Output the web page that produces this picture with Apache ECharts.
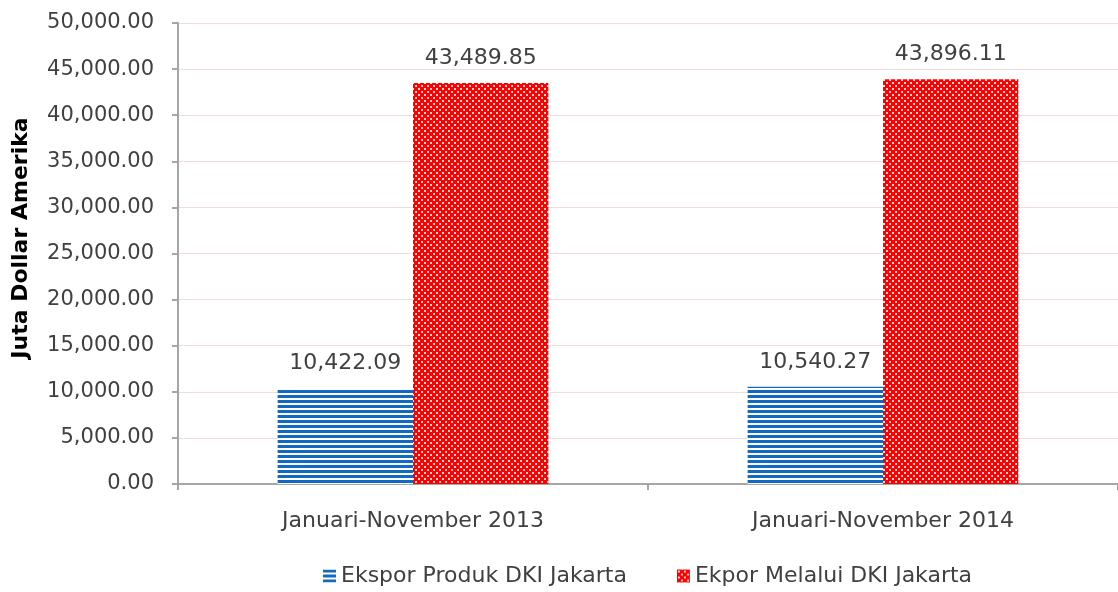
<!DOCTYPE html>
<html>
<head>
<meta charset="utf-8">
<script src="https://cdn.jsdelivr.net/npm/echarts@6/dist/echarts.min.js"></script>
<style>html,body{margin:0;padding:0;background:#fff}#c{width:1118px;height:592px}</style>
</head>
<body>
<div id="c"></div>
<script>
const categories = ["Januari-November 2013", "Januari-November 2014"];
const seriesNames = ["Ekspor Produk DKI Jakarta", "Ekpor Melalui DKI Jakarta"];
const eksporProduk = [10422.09, 10540.27];
const eksporMelalui = [43489.85, 43896.11];
const yTicks = [0, 5000, 10000, 15000, 20000, 25000, 30000, 35000, 40000, 45000, 50000];
const yAxisTitle = "Juta Dollar Amerika";

function stripePattern() {
  const c = document.createElement('canvas');
  c.width = 5; c.height = 5;
  const g = c.getContext('2d');
  g.fillStyle = '#ffffff'; g.fillRect(0, 0, 5, 5);
  g.fillStyle = '#1169c2'; g.fillRect(0, 0, 5, 3);
  return c;
}
function dotPattern() {
  const c = document.createElement('canvas');
  c.width = 6; c.height = 6;
  const g = c.getContext('2d');
  g.fillStyle = '#ff0000'; g.fillRect(0, 0, 6, 6);
  g.fillStyle = '#ffd6d6';
  g.fillRect(1, 1, 2, 2);
  g.fillRect(4, 4, 2, 2);
  return c;
}
const fmt = v => v.toLocaleString('en-US', {minimumFractionDigits: 2, maximumFractionDigits: 2});
const FONT = '"DejaVu Sans", "Open Sans", sans-serif';

const chart = echarts.init(document.getElementById('c'), null, {renderer: 'canvas'});
chart.setOption({
  animation: false,
  textStyle: {fontFamily: FONT},
  grid: {left: 178, right: -6, top: 23, bottom: 108, containLabel: false},
  graphic: [{
    type: 'text',
    x: 21, y: 238,
    rotation: Math.PI / 2,
    style: {
      text: yAxisTitle,
      font: 'bold 22px "DejaVu Sans", sans-serif',
      fill: '#000',
      textAlign: 'center',
      textVerticalAlign: 'middle'
    }
  }],
  legend: {
    bottom: 0, left: 318,
    itemWidth: 13, itemHeight: 13, itemGap: 50,
    icon: 'rect',
    textStyle: {fontSize: 22, color: '#404040', fontFamily: FONT},
    data: seriesNames
  },
  xAxis: {
    type: 'category',
    data: categories,
    axisLine: {lineStyle: {color: '#a6a6a6', width: 2}},
    axisTick: {show: true, length: 6, lineStyle: {color: '#a6a6a6', width: 2}},
    axisLabel: {fontSize: 22, color: '#404040', margin: 26, fontFamily: FONT}
  },
  yAxis: {
    type: 'value',
    min: yTicks[0], max: yTicks[yTicks.length - 1], interval: 5000,
    axisLine: {show: true, lineStyle: {color: '#a6a6a6', width: 2}},
    axisTick: {show: true, length: 6, lineStyle: {color: '#a6a6a6', width: 2}},
    axisLabel: {fontSize: 21, color: '#404040', margin: 24, formatter: v => fmt(v), fontFamily: FONT},
    splitLine: {lineStyle: {color: '#f2dcdb', width: 1}}
  },
  series: [
    {
      name: seriesNames[0], type: 'bar', data: eksporProduk,
      barGap: '0%', barCategoryGap: '42.4%',
      itemStyle: {color: {image: stripePattern(), repeat: 'repeat'}},
      label: {show: true, position: 'top', distance: 14, formatter: p => fmt(p.value), fontSize: 22, color: '#404040', fontFamily: FONT}
    },
    {
      name: seriesNames[1], type: 'bar', data: eksporMelalui,
      barGap: '0%', barCategoryGap: '42.4%',
      itemStyle: {color: {image: dotPattern(), repeat: 'repeat'}},
      label: {show: true, position: 'top', distance: 14, formatter: p => fmt(p.value), fontSize: 22, color: '#404040', fontFamily: FONT}
    }
  ]
});
</script>
</body>
</html>
